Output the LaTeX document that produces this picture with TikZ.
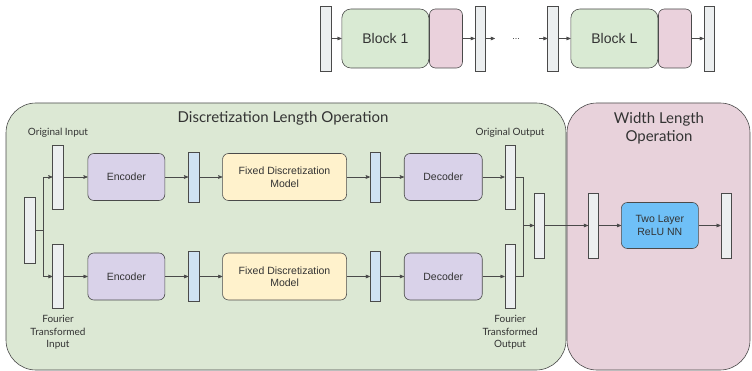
\documentclass[tikz,border=0pt]{standalone}
\usepackage{fontspec}
\setmainfont{Liberation Sans}
\newfontfamily\latofont{Lato}
\usetikzlibrary{positioning, arrows}

\definecolor{linegray}{HTML}{4A4A4A}
\definecolor{bargray}{HTML}{ECEFF0}
\definecolor{latentblue}{HTML}{CFE2F3}
\definecolor{encpurple}{HTML}{D9D2E9}
\definecolor{fdmyellow}{HTML}{FFF2CC}
\definecolor{nnblue}{HTML}{6FC0F7}
\definecolor{blockgreen}{HTML}{D9EAD3}
\definecolor{tailpink}{HTML}{EAD1DC}
\definecolor{panelgreen}{HTML}{DCE8D4}
\definecolor{panelpink}{HTML}{E8D2DB}
\definecolor{textgray}{HTML}{333333}

\tikzset{
  bar/.style={draw=linegray, fill=bargray, minimum width=10.5pt, minimum height=65pt, inner sep=0pt},
  latent/.style={bar, fill=latentblue, minimum height=50pt},
  box/.style={draw=linegray, rounded corners=6pt, minimum height=47pt, inner sep=0pt, align=center, text=textgray, font=\fontsize{10.5}{12.5}\selectfont},
  enc/.style={box, fill=encpurple, minimum width=77pt},
  fdm/.style={box, fill=fdmyellow, minimum width=124pt},
  nnbox/.style={box, fill=nnblue, minimum width=77pt, minimum height=46pt},
  block/.style={box, fill=blockgreen, rounded corners=9pt, minimum width=87pt, minimum height=59pt, font=\fontsize{14}{16}\selectfont},
  tailbox/.style={box, fill=tailpink, minimum width=33pt, minimum height=59pt},
  lbl/.style={font=\latofont\fontsize{10}{12.5}\selectfont, align=center, text=textgray},
  title/.style={font=\latofont\fontsize{15}{18}\selectfont, align=center, text=textgray},
}

\begin{document}
\begin{tikzpicture}[->, >=stealth', x=1pt, y=-1pt, node distance=23pt, line width=0.6pt, draw=linegray]
  \useasboundingbox (0,0) rectangle (752,371);

  % block chain on top
  \node[bar] (t1) at (326,38.5) {};
  \node[block, right=10pt of t1] (b1) {Block 1};
  \node[tailbox, right=0pt of b1] (p1) {};
  \node[bar, right=12pt of p1] (t2) {};
  \coordinate[right=9pt of t2.east] (d1);
  \node[font=\fontsize{9}{10}\selectfont, text=textgray] (dots) at (516,39) {...};
  \coordinate (d2) at (539,38.5);
  \node[bar] (t3) at (553,38.5) {};
  \node[block, right=12pt of t3] (bl) {Block L};
  \node[tailbox, right=0pt of bl] (pl) {};
  \node[bar, right=12pt of pl] (t4) {};
  \draw (t1) -- (b1);
  \draw (p1) -- (t2);
  \draw (t2) -- (d1);
  \draw (d2) -- (t3);
  \draw (t3) -- (bl);
  \draw (pl) -- (t4);

  % panels
  \draw[-, fill=panelgreen, rounded corners=30pt] (6,103) rectangle (566,370);
  \draw[-, fill=panelpink, rounded corners=30pt] (567,103) rectangle (750,370);
  \node[title] (dlo) at (283,118) {Discretization Length Operation};
  \node[title] (wlo) at (659,128) {Width Length\\Operation};

  % discretization part
  \node[bar, minimum width=11pt, minimum height=66pt] (in) at (29.5,230) {};
  \node[bar, minimum height=64pt] (oi) at (58,177) {};
  \node[bar, minimum height=64pt] (fi) at (58,276.5) {};
  \node[enc, right=24pt of oi] (enc1) {Encoder};
  \node[latent, right=of enc1] (z1) {};
  \node[fdm, right=of z1] (fdm1) {Fixed Discretization\\Model};
  \node[latent, right=of fdm1] (z2) {};
  \node[enc, minimum width=78pt, right=of z2] (dec1) {Decoder};
  \node[bar, minimum height=64pt, right=22pt of dec1] (oo) {};
  \node[enc, right=24pt of fi] (enc2) {Encoder};
  \node[latent, right=of enc2] (z3) {};
  \node[fdm, right=of z3] (fdm2) {Fixed Discretization\\Model};
  \node[latent, right=of fdm2] (z4) {};
  \node[enc, minimum width=78pt, right=of z4] (dec2) {Decoder};
  \node[bar, minimum height=64pt, right=22pt of dec2] (fo) {};
  \node[bar] (mg) at (539.5,225.5) {};

  \node[lbl, above=4pt of oi] (oil) {Original Input};
  \node[lbl, above=4pt of oo] (ool) {Original Output};
  \node[lbl, below=3pt of fi] (fil) {Fourier\\Transformed\\Input};
  \node[lbl, below=3pt of fo] (fol) {Fourier\\Transformed\\Output};

  \coordinate[right=8pt of in.east] (sp);
  \draw[-] (in) -- (sp);
  \draw (sp) |- (oi);
  \draw (sp) |- (fi);
  \draw (oi) -- (enc1);
  \draw (enc1) -- (z1);
  \draw (z1) -- (fdm1);
  \draw (fdm1) -- (z2);
  \draw (z2) -- (dec1);
  \draw (dec1) -- (oo);
  \draw (fi) -- (enc2);
  \draw (enc2) -- (z3);
  \draw (z3) -- (fdm2);
  \draw (fdm2) -- (z4);
  \draw (z4) -- (dec2);
  \draw (dec2) -- (fo);
  \coordinate (mj) at (523,225.5);
  \draw[-] (oo) -| (mj);
  \draw[-] (fo) -| (mj);
  \draw (mj) -- (mg);

  % width part
  \node[bar] (wi) at (593.5,225.5) {};
  \node[nnbox, right=22pt of wi] (nn) {Two Layer\\ReLU NN};
  \node[bar, right=22pt of nn] (wo) {};
  \draw (mg) -- (wi);
  \draw (wi) -- (nn);
  \draw (nn) -- (wo);
\end{tikzpicture}
\end{document}
